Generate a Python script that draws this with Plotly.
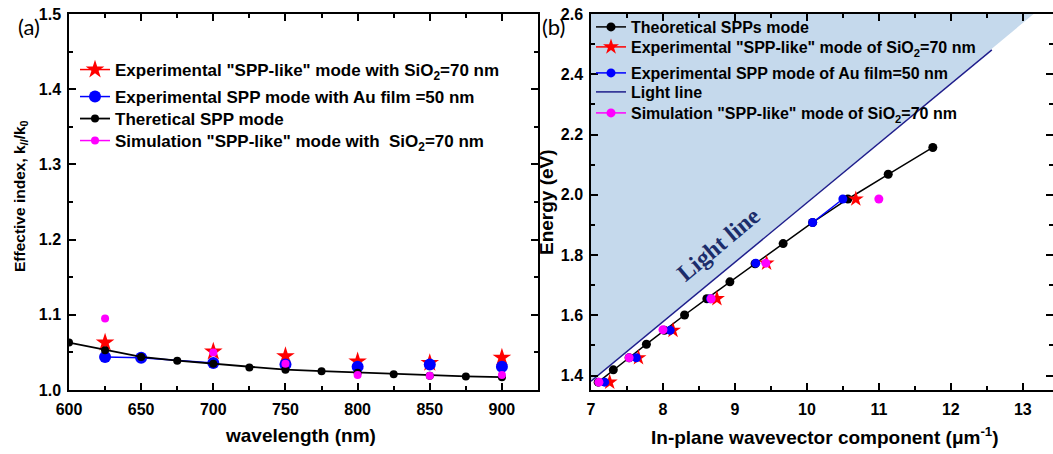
import plotly.graph_objects as go

# ---------------- Panel (a) data ----------------
wl_theory = [600, 625, 650, 675, 700, 725, 750, 775, 800, 825, 850, 875, 900]
neff_theory = [1.063, 1.053, 1.044, 1.039, 1.035, 1.030, 1.027, 1.025, 1.023, 1.021, 1.019, 1.018, 1.017]

wl_exp_sio2 = [625, 700, 750, 800, 850, 900]
neff_exp_sio2 = [1.063, 1.051, 1.045, 1.038, 1.036, 1.043]

wl_exp_au = [625, 650, 700, 750, 800, 850, 900]
neff_exp_au = [1.044, 1.043, 1.036, 1.034, 1.031, 1.034, 1.031]

wl_sim = [625, 700, 750, 800, 850, 900]
neff_sim = [1.095, 1.050, 1.035, 1.020, 1.019, 1.020]

# ---------------- Panel (b) data ----------------
k_theory = [7.10, 7.31, 7.53, 7.77, 8.02, 8.30, 8.61, 8.93, 9.28, 9.67, 10.08, 10.57, 11.13, 11.75]
E_theory = [1.378, 1.419, 1.459, 1.504, 1.550, 1.601, 1.655, 1.711, 1.771, 1.838, 1.908, 1.986, 2.068, 2.157]

k_exp_sio2 = [7.26, 7.66, 8.14, 8.75, 9.44, 10.68]
E_exp_sio2 = [1.378, 1.459, 1.550, 1.655, 1.773, 1.986]

k_exp_au = [7.19, 7.63, 8.10, 8.66, 9.29, 10.08, 10.50]
E_exp_au = [1.378, 1.459, 1.550, 1.655, 1.773, 1.908, 1.986]

k_sim = [7.11, 7.53, 8.00, 8.67, 9.43, 11.00]
E_sim = [1.378, 1.459, 1.552, 1.655, 1.773, 1.986]

k_light = [7.0, 12.57]
E_light = [1.381, 2.481]

k_shade = [7.0, 13.15, 7.0]
E_shade = [1.381, 2.6, 2.6]


def gapped(xs, ys, connected=()):
    """Insert None breaks so that only segments i->i+1 with i in `connected` are drawn."""
    ox, oy = [], []
    for i, (x, y) in enumerate(zip(xs, ys)):
        ox.append(x)
        oy.append(y)
        if i < len(xs) - 1 and i not in connected:
            ox.append(None)
            oy.append(None)
    return ox, oy


RED = "#ff0000"
BLUE = "#0000ff"
BLACK = "#000000"
PINK = "#ff00ff"
NAVY = "#1e1e8c"
SHADE = "#c5d9ec"
FONT = "Liberation Sans, Arial, sans-serif"

W, H = 1053, 454


def px_x(p):
    return p / W


def px_y(p):
    return 1 - p / H


fig = go.Figure()

# ---- panel (a) traces ----
x, y = gapped(wl_exp_sio2, neff_exp_sio2)
fig.add_trace(go.Scatter(x=x, y=y, mode="lines+markers", name='Experimental "SPP-like" mode with SiO<sub>2</sub>=70 nm',
                         line=dict(color=RED, width=1.5), marker=dict(symbol="star", size=14, color=RED),
                         xaxis="x", yaxis="y", legend="legend", connectgaps=False))
x, y = gapped(wl_exp_au, neff_exp_au, connected=(0, 1))
fig.add_trace(go.Scatter(x=x, y=y, mode="lines+markers", name="Experimental SPP mode with Au film =50 nm",
                         line=dict(color=BLUE, width=1.5), marker=dict(symbol="circle", size=12, color=BLUE),
                         xaxis="x", yaxis="y", legend="legend2", connectgaps=False))
fig.add_trace(go.Scatter(x=wl_theory, y=neff_theory, mode="lines+markers", name="Theretical SPP mode",
                         line=dict(color=BLACK, width=1.8), marker=dict(symbol="circle", size=8, color=BLACK),
                         xaxis="x", yaxis="y", legend="legend3"))
x, y = gapped(wl_sim, neff_sim)
fig.add_trace(go.Scatter(x=x, y=y, mode="lines+markers", name='Simulation "SPP-like" mode with  SiO<sub>2</sub>=70 nm',
                         line=dict(color=PINK, width=1.5), marker=dict(symbol="circle", size=8, color=PINK),
                         xaxis="x", yaxis="y", legend="legend4", connectgaps=False))

# ---- panel (b) traces ----
fig.add_trace(go.Scatter(x=k_shade, y=E_shade, mode="lines", fill="toself", fillcolor=SHADE,
                         line=dict(width=0, color=SHADE), showlegend=False, hoverinfo="skip",
                         xaxis="x2", yaxis="y2"))
fig.add_trace(go.Scatter(x=k_theory, y=E_theory, mode="lines+markers", name="Theoretical SPPs mode",
                         line=dict(color=BLACK, width=1.5), marker=dict(symbol="circle", size=9, color=BLACK),
                         xaxis="x2", yaxis="y2", legend="legend5"))
x, y = gapped(k_exp_sio2, E_exp_sio2)
fig.add_trace(go.Scatter(x=x, y=y, mode="lines+markers", name='Experimental "SPP-like" mode of SiO<sub>2</sub>=70 nm',
                         line=dict(color=RED, width=1.5), marker=dict(symbol="star", size=12, color=RED),
                         xaxis="x2", yaxis="y2", legend="legend6", connectgaps=False))
x, y = gapped(k_exp_au, E_exp_au, connected=(5,))
fig.add_trace(go.Scatter(x=x, y=y, mode="lines+markers", name="Experimental SPP mode of Au film=50 nm",
                         line=dict(color=BLUE, width=1.5), marker=dict(symbol="circle", size=9, color=BLUE),
                         xaxis="x2", yaxis="y2", legend="legend7", connectgaps=False))
fig.add_trace(go.Scatter(x=k_light, y=E_light, mode="lines", name="Light line",
                         line=dict(color=NAVY, width=1.5),
                         xaxis="x2", yaxis="y2", legend="legend8"))
x, y = gapped(k_sim, E_sim)
fig.add_trace(go.Scatter(x=x, y=y, mode="lines+markers", name='Simulation "SPP-like" mode of SiO<sub>2</sub>=70 nm',
                         line=dict(color=PINK, width=1.5), marker=dict(symbol="circle", size=9, color=PINK),
                         xaxis="x2", yaxis="y2", legend="legend9", connectgaps=False))

tickfont = dict(family=FONT, size=16, color="black", weight="bold")
axis_common = dict(showgrid=False, zeroline=False, showline=True, linecolor="black", linewidth=1.5,
                   mirror="ticks", ticks="inside", ticklen=7, tickwidth=1.5, tickcolor="black",
                   tickfont=tickfont, automargin=False,
                   minor=dict(ticks="inside", ticklen=4, tickwidth=1.5, tickcolor="black"))


def legend_at(x_px, y_px, size):
    return dict(x=px_x(x_px), y=px_y(y_px), xanchor="left", yanchor="middle", bgcolor="rgba(0,0,0,0)",
                font=dict(family=FONT, size=size, color="black", weight="bold"), itemwidth=30,
                borderwidth=0)


LEG_A_X = 75
LEG_B_X = 591
leg_a_rows = [70, 97, 119, 141]
leg_b_rows = [27, 47, 73, 92, 113]

layout_legends = {}
for i, yy in enumerate(leg_a_rows):
    key = "legend" if i == 0 else f"legend{i + 1}"
    layout_legends[key] = legend_at(LEG_A_X, yy, 17)
for j, yy in enumerate(leg_b_rows):
    layout_legends[f"legend{j + 5}"] = legend_at(LEG_B_X, yy, 16)

fig.update_layout(
    width=W, height=H,
    margin=dict(l=0, r=0, t=0, b=0, autoexpand=False),
    plot_bgcolor="white", paper_bgcolor="white",
    font=dict(family=FONT, color="black"),
    xaxis=dict(domain=[px_x(69), px_x(538)], range=[600, 925], dtick=50, tick0=600,
               anchor="y", minor_dtick=25, ticklabelstandoff=4, **axis_common),
    yaxis=dict(domain=[px_y(390), px_y(14)], range=[1.0, 1.5], dtick=0.1, tick0=1.0,
               tickformat=".1f", anchor="x", minor_dtick=0.05, ticklabelstandoff=3, **axis_common),
    xaxis2=dict(domain=[px_x(591), 1.0], range=[7, 13.42], dtick=1, tick0=7,
                anchor="y2", minor_dtick=0.5, ticklabelstandoff=4, **axis_common),
    yaxis2=dict(domain=[px_y(390), px_y(14)], range=[1.352, 2.6], dtick=0.2, tick0=1.4,
                tickformat=".1f", anchor="x2", minor_dtick=0.1, ticklabelstandoff=3, **axis_common),
    showlegend=True,
    hovermode=False,
    **layout_legends,
)

annotations = [
    dict(text="wavelength (nm)", x=px_x(300), y=px_y(435), xref="paper", yref="paper",
         xanchor="center", yanchor="middle",
         showarrow=False, font=dict(family=FONT, size=19, weight="bold")),
    dict(text="In-plane wavevector component (\u03bcm<sup>-1</sup>)", x=px_x(825), y=px_y(436),
         xref="paper", yref="paper", xanchor="center", yanchor="middle",
         showarrow=False, font=dict(family=FONT, size=19, weight="bold")),
    dict(text="Effective index, k<sub>//</sub>/k<sub>0</sub>", x=px_x(20), y=px_y(196), xref="paper",
         yref="paper", xanchor="center", yanchor="middle", textangle=-90, showarrow=False,
         font=dict(family=FONT, size=15.5, weight="bold")),
    dict(text="Energy (eV)", x=px_x(546), y=px_y(202), xref="paper", yref="paper", textangle=-90,
         xanchor="center", yanchor="middle",
         showarrow=False, font=dict(family=FONT, size=19, weight="bold")),
    dict(text="(a)", x=px_x(29), y=px_y(26), xref="paper", yref="paper", showarrow=False,
         xanchor="center", yanchor="middle",
         font=dict(family="Lato, Liberation Sans, sans-serif", size=22)),
    dict(text="(b)", x=px_x(553), y=px_y(26), xref="paper", yref="paper", showarrow=False,
         xanchor="center", yanchor="middle",
         font=dict(family="Lato, Liberation Sans, sans-serif", size=22)),
    dict(text="<b>Light line</b>", x=8.78, y=1.835, xref="x2", yref="y2", textangle=-40,
         xanchor="center", yanchor="middle",
         showarrow=False, font=dict(family="Liberation Serif, Times New Roman, serif", size=24, color="#1c2d6b")),
]
fig.update_layout(annotations=annotations)

fig.write_html("out.html", config={"displayModeBar": False},
               post_script="document.body.style.margin='0px';document.body.style.overflow='hidden';")
